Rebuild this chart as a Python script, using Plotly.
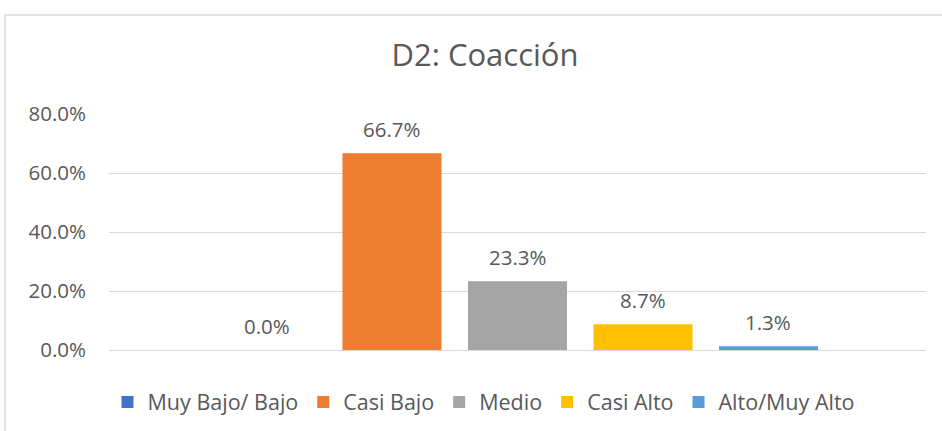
import plotly.graph_objects as go

categories = ["Muy Bajo/ Bajo", "Casi Bajo", "Medio", "Casi Alto", "Alto/Muy Alto"]
values = [0.0, 66.7, 23.3, 8.7, 1.3]
colors = ["#4472C4", "#ED7D31", "#A5A5A5", "#FFC000", "#5B9BD5"]
y_ticks = [0, 20, 40, 60, 80]
y_tick_labels = ["0.0%", "20.0%", "40.0%", "60.0%", "80.0%"]
title_text = "D2: Coacción"

FONT = "'Open Sans', sans-serif"
TXT = "#595959"

fig = go.Figure()
for name, v, c in zip(categories, values, colors):
    fig.add_trace(go.Bar(
        x=["D2"], y=[v], name=name, marker=dict(color=c, line=dict(width=0)),
        offsetgroup=name,
    ))
    fig.add_annotation(
        x="D2", y=v, text=f"{v:.1f}%", showarrow=False, yanchor="middle",
        yshift=24, xref="x", yref="y", font=dict(family=FONT, size=20.5, color=TXT),
    )

n = len(categories)
slot = 817 * (1 - 0.232) / n
for i, ann in enumerate(fig.layout.annotations):
    ann.xshift = (i - (n - 1) / 2) * slot

fig.update_layout(
    width=942, height=431,
    margin=dict(l=109, r=16, t=114, b=81, autoexpand=False),
    paper_bgcolor="white", plot_bgcolor="white",
    title=dict(text=title_text, x=(485 - 109) / 817, xanchor="center", xref="paper",
               y=1 - 55 / 431, yanchor="middle", yref="container",
               font=dict(family=FONT, size=31, color=TXT)),
    barmode="group", bargap=0.232, bargroupgap=0.211,
    showlegend=True,
    legend=dict(orientation="h", x=(484 - 109) / 817, xanchor="center",
                y=(350 - 402) / 236, yanchor="middle",
                font=dict(family=FONT, size=21.5, color=TXT), traceorder="normal",
                itemwidth=30, bgcolor="rgba(0,0,0,0)"),
    xaxis=dict(showticklabels=False, showgrid=False, zeroline=False, showline=False),
    yaxis=dict(range=[0, 80], tickvals=y_ticks, ticktext=y_tick_labels,
               showgrid=True, gridcolor="#D9D9D9", gridwidth=1, zeroline=True,
               zerolinecolor="#D9D9D9", zerolinewidth=1, showline=False,
               ticklabelstandoff=22,
               tickfont=dict(family=FONT, size=20.5, color=TXT)),
    shapes=[dict(type="rect", xref="paper", yref="paper",
                 x0=(5 - 109) / 817, x1=1.2, y0=-0.6, y1=(350 - 15) / 236,
                 line=dict(color="#D9D9D9", width=1.5), fillcolor="rgba(0,0,0,0)",
                 layer="below")],
)

fig.write_html("out.html", config={"displayModeBar": False},
               post_script="document.body.style.margin='0';document.body.style.overflow='hidden';")
